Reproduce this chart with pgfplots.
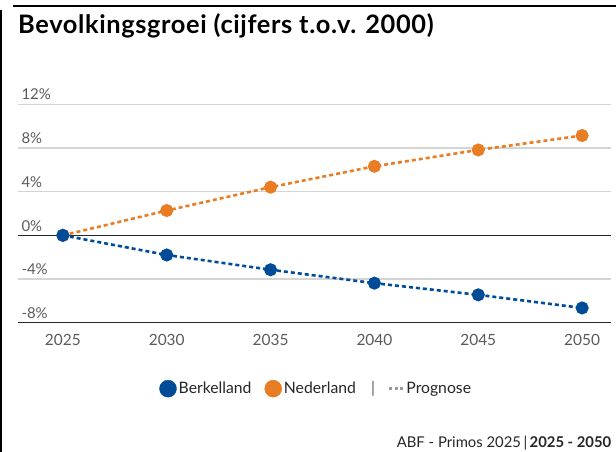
\documentclass[border=0pt]{standalone}
\usepackage{fontspec}
\setmainfont{Lato}
\usepackage{pgfplots}
\pgfplotsset{compat=1.18}
\definecolor{blauw}{HTML}{004C97}
\definecolor{oranje}{HTML}{E87D23}
\definecolor{gridc}{HTML}{D4D4D4}
\definecolor{lbl}{HTML}{5A5A5A}
\definecolor{txt}{HTML}{262626}
\definecolor{dotc}{HTML}{9A9A9A}
\begin{document}
\begin{tikzpicture}[x=1bp,y=1bp]
\path[use as bounding box] (0,0) rectangle (616,452);
\draw[line width=2.5bp] (13,446) -- (616,446);
\draw[line width=2bp] (1,442) -- (1,0);
\node[anchor=base west, inner sep=0, font=\bfseries\fontsize{25.5}{28}\selectfont\addfontfeatures{LetterSpace=2.5}] at (18,418) {Bevolkingsgroei (cijfers t.o.v. 2000)};
\begin{axis}[at={(18bp,129.3bp)}, anchor=south west, scale only axis,
  width=593bp, height=218.4bp,
  xmin=2022.84, xmax=2051.39, ymin=-8, ymax=12, clip=false,
  axis line style={draw=none}, major tick length=0pt,
  xtick={2025,2030,2035,2040,2045,2050},
  xticklabels={2025,2030,2035,2040,2045,2050},
  ytick={-4,4,8,12}, yticklabels={-4\%,4\%,8\%,12\%},
  extra y ticks={-8,0}, extra y tick labels={-8\%,0\%},
  ymajorgrids, grid style={gridc, line width=1.2bp},
  extra y tick style={grid style={txt, line width=1.6bp}},
  yticklabel style={anchor=base west, xshift=0bp, yshift=4.3bp, font=\fontsize{15}{18}\selectfont, text=lbl},
  xticklabel style={yshift=-8bp, font=\fontsize{15.5}{18}\selectfont, text=lbl},
  legend style={at={(0.2383,-0.302)}, anchor=west, draw=none, inner sep=0pt, outer sep=0pt,
    legend columns=4, font=\fontsize{15.8}{18}\selectfont, text=txt,
    /tikz/every even column/.append style={column sep=11bp},
    nodes={inner sep=2bp}},
]
\addplot[oranje, line width=2.6bp, dash pattern=on 4bp off 3bp, mark=*, mark size=5.2bp, mark options={solid, draw=none, fill=oranje}, forget plot]
  coordinates {(2025,0) (2030,2.27) (2035,4.41) (2040,6.32) (2045,7.82) (2050,9.14)};
\addplot[blauw, line width=2.6bp, dash pattern=on 4bp off 3bp, mark=*, mark size=5.2bp, mark options={solid, draw=none, fill=blauw}, forget plot]
  coordinates {(2025,0) (2030,-1.80) (2035,-3.15) (2040,-4.38) (2045,-5.45) (2050,-6.65)};
\addlegendimage{legend image code/.code={\fill[blauw] (8.5bp,0bp) circle (8.5bp);}}
\addlegendentry{Berkelland}
\addlegendimage{legend image code/.code={\fill[oranje] (8.5bp,0bp) circle (8.5bp);}}
\addlegendentry{Nederland}
\addlegendimage{empty legend}
\addlegendentry{\textcolor{lbl}{|}}
\addlegendimage{legend image code/.code={\draw[dotc, line width=3bp, dash pattern=on 3bp off 2.5bp] (0bp,0bp) -- (13.5bp,0bp);}}
\addlegendentry{Prognose}
\end{axis}
\node[anchor=base east, inner sep=0, text=txt, font=\fontsize{14.9}{17}\selectfont] at (611.5,4.5) {ABF - Primos 2025\,|\,\textbf{2025 - 2050}};
\end{tikzpicture}
\end{document}
